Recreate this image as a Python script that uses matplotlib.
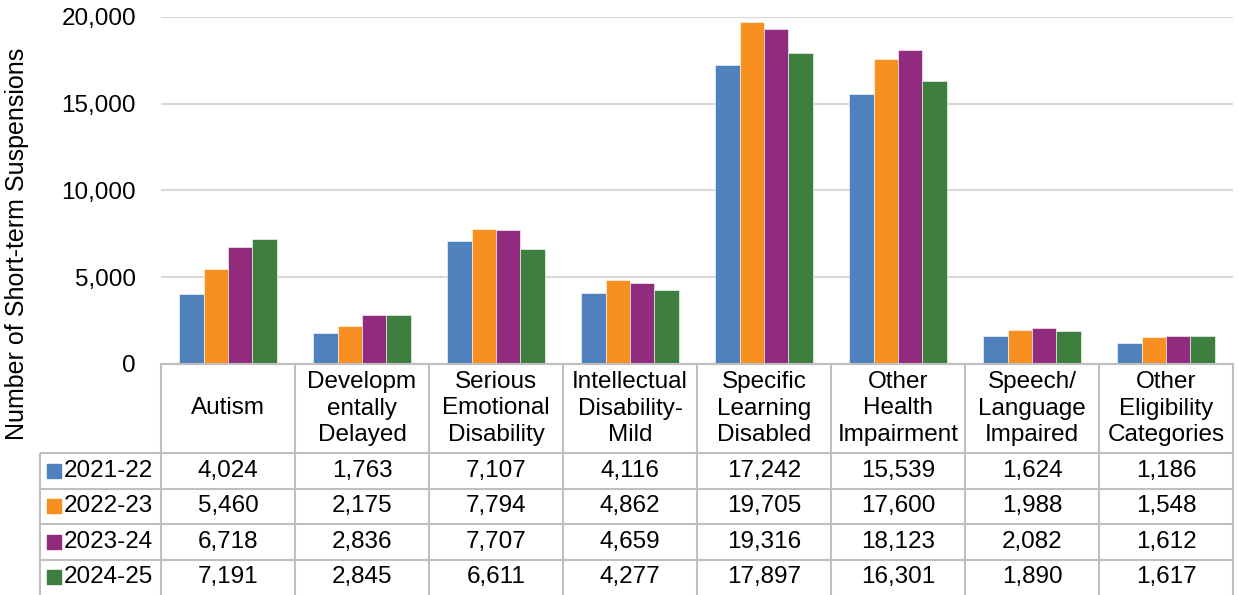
import matplotlib.pyplot as plt
from matplotlib.ticker import FuncFormatter

plt.rcParams['font.family'] = ['Liberation Sans', 'DejaVu Sans']

categories = ['Autism', 'Developm\nentally\nDelayed', 'Serious\nEmotional\nDisability',
              'Intellectual\nDisability-\nMild', 'Specific\nLearning\nDisabled',
              'Other\nHealth\nImpairment', 'Speech/\nLanguage\nImpaired',
              'Other\nEligibility\nCategories']
years = ['2021-22', '2022-23', '2023-24', '2024-25']
v2122 = [4024, 1763, 7107, 4116, 17242, 15539, 1624, 1186]
v2223 = [5460, 2175, 7794, 4862, 19705, 17600, 1988, 1548]
v2324 = [6718, 2836, 7707, 4659, 19316, 18123, 2082, 1612]
v2425 = [7191, 2845, 6611, 4277, 17897, 16301, 1890, 1617]
series = [v2122, v2223, v2324, v2425]
colors = ['#4F81BD', '#F79020', '#912B7E', '#3E7E3F']

W, H = 1238, 595
fig = plt.figure(figsize=(W / 100, H / 100), dpi=100)
fs = 17.5
grid_col = '#D9D9D9'
line_col = '#BFBFBF'

# plot area in pixels
x0, x1 = 161, 1233
ytop, ybot = 17, 364
ax = fig.add_axes([x0 / W, (H - ybot) / H, (x1 - x0) / W, (ybot - ytop) / H])
n = len(categories)
bw = 0.1815
for i, (vals, c) in enumerate(zip(series, colors)):
    xs = [k + (i - 1.5) * bw for k in range(n)]
    ax.bar(xs, vals, width=bw, color=c, edgecolor='white', linewidth=0.4, zorder=3)
ax.set_xlim(-0.5, n - 0.5)
ax.set_ylim(0, 20000)
ax.set_yticks([0, 5000, 10000, 15000, 20000])
ax.yaxis.set_major_formatter(FuncFormatter(lambda v, p: f'{int(v):,}'))
ax.tick_params(axis='y', length=0, pad=18, labelsize=fs)
ax.set_xticks([])
ax.grid(axis='y', color=grid_col, linewidth=1.5, zorder=0)
for s in ['top', 'right', 'left']:
    ax.spines[s].set_visible(False)
ax.spines['bottom'].set_color(line_col)
ax.spines['bottom'].set_linewidth(1.5)

# data table below, in category units across and pixel units down
left_px = 40
unit = (x1 - x0) / n
tx0 = -0.5 - (x0 - left_px) / unit
tab = fig.add_axes([left_px / W, 0, (x1 - left_px) / W, (H - ybot) / H])
tab.set_xlim(tx0, n - 0.5)
tab.set_ylim(0, H - ybot)
tab.axis('off')

header_bot = H - 453
row_h = header_bot / 4
lk = dict(color=line_col, linewidth=1.5, clip_on=False, solid_capstyle='butt')
# horizontal lines
tab.plot([-0.5, n - 0.5], [H - ybot, H - ybot], **lk)
for r in range(4):
    y = header_bot - r * row_h
    tab.plot([tx0, n - 0.5], [y, y], **lk)
# vertical lines
for k in range(n + 1):
    tab.plot([k - 0.5, k - 0.5], [0, H - ybot], **lk)
tab.plot([tx0, tx0], [0, header_bot], **lk)

for k, cat in enumerate(categories):
    tab.text(k, (H - ybot + header_bot) / 2, cat, ha='center', va='center',
             fontsize=fs, linespacing=1.29)
for r, (yr, vals, c) in enumerate(zip(years, series, colors)):
    yc = header_bot - (r + 0.5) * row_h
    tab.scatter([tx0 + 0.105], [yc], marker='s', s=88, color=c, clip_on=False)
    tab.text(tx0 + 0.18, yc, yr, ha='left', va='center', fontsize=fs)
    for k, v in enumerate(vals):
        tab.text(k, yc, f'{v:,}', ha='center', va='center', fontsize=fs)

fig.text(17 / W, 1 - 244 / H, 'Number of Short-term Suspensions', rotation=90,
         ha='center', va='center', fontsize=18)

fig.savefig('out.png', dpi=100)
